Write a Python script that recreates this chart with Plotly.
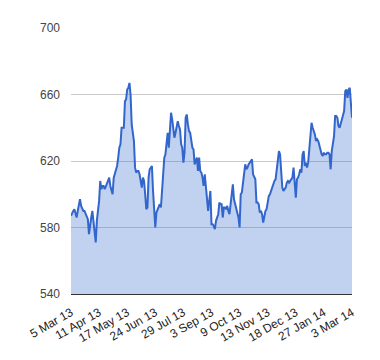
import plotly.graph_objects as go

TICK_LABELS = ["5 Mar 13", "11 Apr 13", "17 May 13", "24 Jun 13", "29 Jul 13",
               "3 Sep 13", "9 Oct 13", "13 Nov 13", "18 Dec 13", "27 Jan 14", "3 Mar 14"]
TICK_STEP = 25  # trading days between labels

PRICES = [
    587, 589, 590, 591, 588, 586, 590, 593, 597, 593,
    591, 590, 590, 588, 587, 585, 576, 583, 586, 590,
    584, 578, 571, 584, 590, 596, 608, 603, 605, 605,
    603, 605, 607, 609, 610, 605, 602, 600, 610, 612,
    614, 617, 622, 628, 630, 640, 640, 640, 656, 657,
    663, 664, 667, 660, 642, 636, 632, 616, 613, 614,
    614, 612, 608, 604, 610, 608, 600, 591, 592, 610,
    615, 616, 617, 602, 592, 580, 589, 591, 593, 594,
    592, 603, 612, 622, 624, 630, 637, 628, 637, 649,
    645, 640, 634, 637, 641, 644, 641, 639, 630, 628,
    619, 625, 646, 648, 642, 638, 637, 632, 628, 627,
    618, 620, 622, 614, 622, 614, 613, 610, 605, 612,
    604, 598, 590, 596, 602, 582, 582, 581, 579, 584,
    586, 588, 595, 594, 594, 586, 592, 592, 591, 593,
    590, 588, 594, 600, 606, 597, 594, 592, 590, 586,
    580, 600, 601, 606, 612, 618, 615, 616, 618, 619,
    620, 621, 612, 610, 609, 595, 595, 594, 589, 590,
    588, 583, 587, 590, 591, 596, 599, 600, 602, 604,
    607, 608, 609, 616, 622, 626, 624, 610, 604, 602,
    603, 604, 607, 608, 607, 608, 609, 610, 616, 606,
    598, 609, 610, 612, 615, 613, 624, 626, 617, 619,
    616, 619, 628, 636, 643, 640, 638, 636, 632, 633,
    632, 629, 626, 624, 623, 625, 624, 624, 625, 625,
    624, 615, 626, 630, 635, 647, 647, 646, 641, 640,
    643, 645, 647, 650, 662, 663, 658, 663, 664, 652,
    646,
]

Y_TICKS = [540, 580, 620, 660, 700]

x_idx = list(range(len(PRICES)))
tick_pos = [i * TICK_STEP for i in range(len(TICK_LABELS))]

fig = go.Figure()
fig.add_trace(go.Scatter(
    x=x_idx, y=PRICES, mode="lines",
    line=dict(color="#3366cc", width=2),
    fill="tozeroy", fillcolor="rgba(51,102,204,0.3)",
    hoverinfo="skip",
))

fig.update_layout(
    width=380, height=360,
    margin=dict(l=63, r=36, t=20, b=74, autoexpand=False),
    paper_bgcolor="white", plot_bgcolor="white",
    showlegend=False,
    font=dict(family="Liberation Sans, Arial, sans-serif", size=12, color="#222222"),
    xaxis=dict(
        range=[0, len(PRICES) - 1], automargin=False,
        tickmode="array", tickvals=tick_pos, ticktext=TICK_LABELS,
        tickangle=-30, showgrid=False, zeroline=False,
        showline=True, linecolor="#333333", linewidth=1,
        ticks="", ticklen=0, ticklabelstandoff=6,
        tickfont=dict(size=12, color="#222222"),
    ),
    yaxis=dict(
        range=[540, 700], tickmode="array", tickvals=Y_TICKS, automargin=False,
        showgrid=True, gridcolor="#cccccc", gridwidth=1,
        zeroline=False, showline=False, ticks="",
        tickfont=dict(size=12, color="#444444"),
        ticklabelstandoff=10,
    ),
)

fig.write_html("out.html")
